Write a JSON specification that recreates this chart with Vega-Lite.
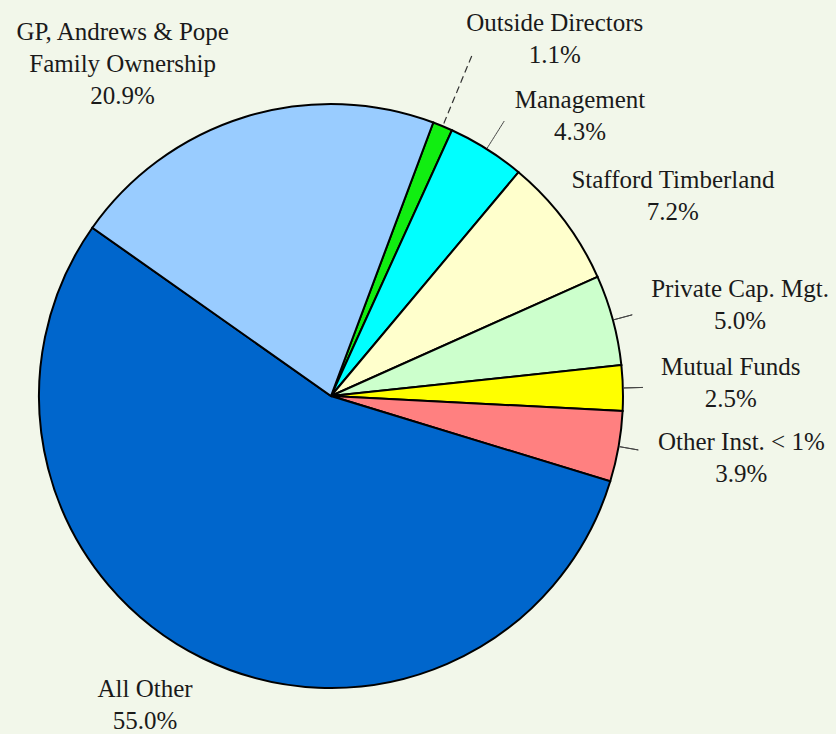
{
  "$schema": "https://vega.github.io/schema/vega-lite/v6.json",
  "width": 662,
  "height": 676,
  "autosize": {"type": "none"},
  "padding": {"left": 0, "top": 58, "right": 174, "bottom": 0},
  "background": "#F2F7EA",
  "view": {"stroke": null},
  "config": {"text": {"font": "Liberation Serif", "fontSize": 25, "lineHeight": 32, "color": "#1a1a1a", "align": "center", "baseline": "middle", "lineBreak": "\n", "dy": -16}},
  "data": {
    "values": [
      {"order": 1, "name": "Outside Directors", "value": 1.1},
      {"order": 2, "name": "Management", "value": 4.3},
      {"order": 3, "name": "Stafford Timberland", "value": 7.2},
      {"order": 4, "name": "Private Cap. Mgt.", "value": 5.0},
      {"order": 5, "name": "Mutual Funds", "value": 2.5},
      {"order": 6, "name": "Other Inst. < 1%", "value": 3.9},
      {"order": 7, "name": "All Other", "value": 55.0},
      {"order": 8, "name": "GP, Andrews & Pope\nFamily Ownership", "value": 20.9}
    ]
  },
  "transform": [
    {"stack": "value", "groupby": [], "sort": [{"field": "order", "order": "ascending"}], "as": ["v0", "v1"]},
    {"calculate": "(datum.v0 + datum.v1) / 2", "as": "mid"},
    {"calculate": "datum.name + '\\n' + format(datum.value, '.1f') + '%'", "as": "label"}
  ],
  "layer": [
    {
      "mark": {"type": "arc", "outerRadius": 292, "stroke": "#000000", "strokeWidth": 2},
      "encoding": {
        "theta": {"field": "v0", "type": "quantitative", "scale": {"domain": [0, 99.9], "range": [0.3578, 6.641]}},
        "theta2": {"field": "v1"},
        "color": {
          "field": "name", "type": "nominal", "legend": null,
          "scale": {
            "domain": ["Outside Directors", "Management", "Stafford Timberland", "Private Cap. Mgt.", "Mutual Funds", "Other Inst. < 1%", "All Other", "GP, Andrews & Pope\nFamily Ownership"],
            "range": ["#11EE11", "#00FFFF", "#FFFFCC", "#CCFFCC", "#FFFF00", "#FF8080", "#0066CC", "#99CCFF"]
          }
        }
      }
    },
    {
      "transform": [{"filter": {"field": "order", "equal": 1}}],
      "mark": {"type": "arc", "innerRadius": 293, "outerRadius": 368, "fillOpacity": 0, "stroke": "#333333", "strokeWidth": 1.2, "strokeDash": [6, 5]},
      "encoding": {"theta": {"field": "mid", "type": "quantitative"}, "theta2": {"field": "mid"}}
    },
    {
      "transform": [{"filter": {"field": "order", "equal": 2}}],
      "mark": {"type": "arc", "innerRadius": 293, "outerRadius": 325, "fillOpacity": 0, "stroke": "#444444", "strokeWidth": 1, "strokeDash": [2, 2]},
      "encoding": {"theta": {"field": "mid", "type": "quantitative"}, "theta2": {"field": "mid"}}
    },
    {
      "transform": [{"filter": {"field": "order", "oneOf": [4, 5, 6]}}],
      "mark": {"type": "arc", "innerRadius": 293, "outerRadius": 312, "fillOpacity": 0, "stroke": "#444444", "strokeWidth": 1},
      "encoding": {"theta": {"field": "mid", "type": "quantitative"}, "theta2": {"field": "mid"}}
    },
    {
      "transform": [{"filter": {"field": "order", "equal": 1}}],
      "mark": {"type": "text", "radius": 421, "thetaOffset": 0.168},
      "encoding": {"theta": {"field": "mid", "type": "quantitative"}, "text": {"field": "label"}}
    },
    {
      "transform": [{"filter": {"field": "order", "equal": 2}}],
      "mark": {"type": "text", "radius": 375, "thetaOffset": 0.164},
      "encoding": {"theta": {"field": "mid", "type": "quantitative"}, "text": {"field": "label"}}
    },
    {
      "transform": [{"filter": {"field": "order", "equal": 3}}],
      "mark": {"type": "text", "radius": 396, "thetaOffset": 0.118},
      "encoding": {"theta": {"field": "mid", "type": "quantitative"}, "text": {"field": "label"}}
    },
    {
      "transform": [{"filter": {"field": "order", "equal": 4}}],
      "mark": {"type": "text", "radius": 419, "thetaOffset": 0.045},
      "encoding": {"theta": {"field": "mid", "type": "quantitative"}, "text": {"field": "label"}}
    },
    {
      "transform": [{"filter": {"field": "order", "equal": 5}}],
      "mark": {"type": "text", "radius": 400, "thetaOffset": -0.006},
      "encoding": {"theta": {"field": "mid", "type": "quantitative"}, "text": {"field": "label"}}
    },
    {
      "transform": [{"filter": {"field": "order", "equal": 6}}],
      "mark": {"type": "text", "radius": 415, "thetaOffset": -0.024},
      "encoding": {"theta": {"field": "mid", "type": "quantitative"}, "text": {"field": "label"}}
    },
    {
      "transform": [{"filter": {"field": "order", "equal": 7}}],
      "mark": {"type": "text", "radius": 361, "thetaOffset": 0.086},
      "encoding": {"theta": {"field": "mid", "type": "quantitative"}, "text": {"field": "label"}}
    },
    {
      "transform": [{"filter": {"field": "order", "equal": 8}}],
      "mark": {"type": "text", "radius": 392, "thetaOffset": -0.261, "dy": -32},
      "encoding": {"theta": {"field": "mid", "type": "quantitative"}, "text": {"field": "label"}}
    }
  ]
}
